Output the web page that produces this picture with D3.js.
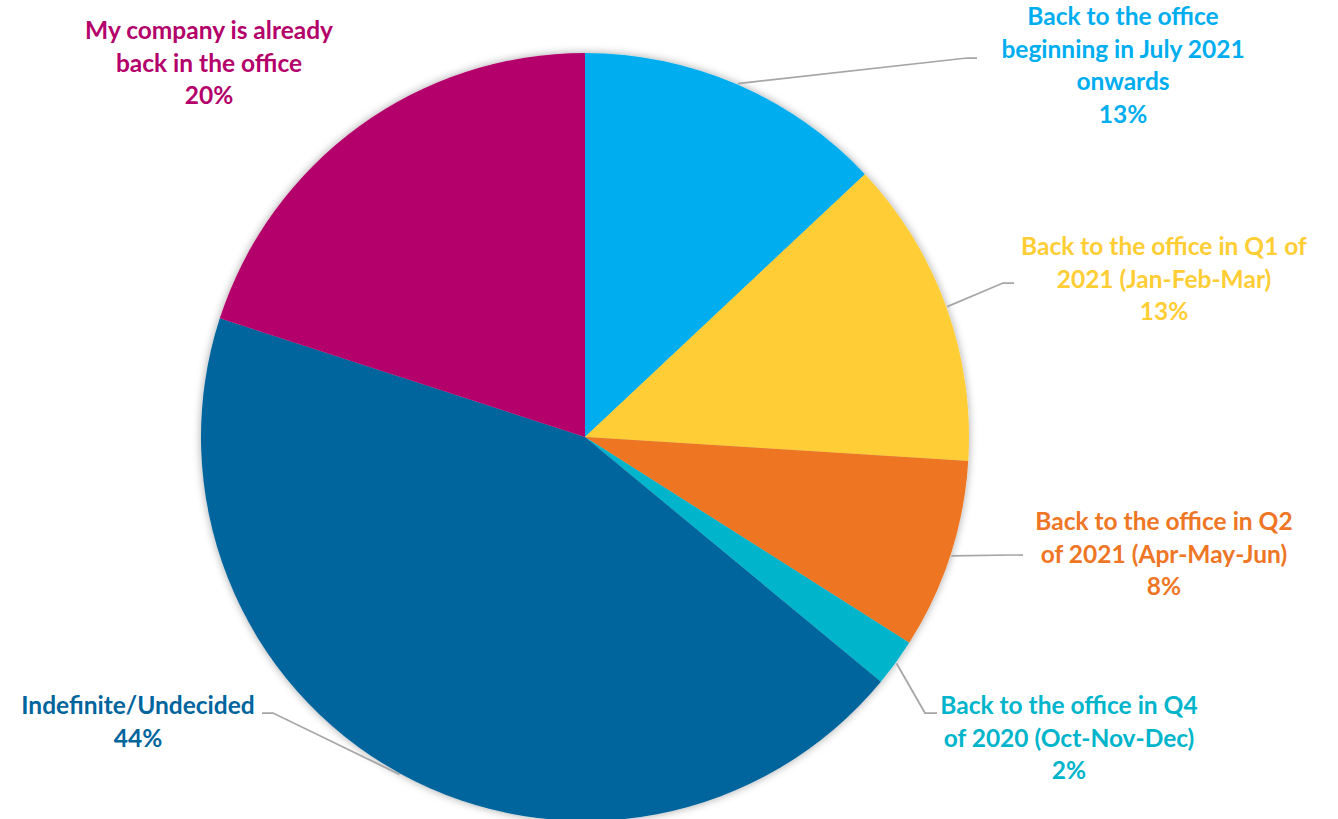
<!DOCTYPE html>
<html>
<head>
<meta charset="utf-8">
<script src="https://cdn.jsdelivr.net/npm/d3@7"></script>
<style>
  body { margin: 0; background: #fff; }
  svg { display: block; }
  .lbl { font-family: Lato, "Open Sans", sans-serif; font-weight: bold; font-size: 24.5px; }
</style>
</head>
<body>
<div id="chart"></div>
<script>
var svgWidth = 1338;
var svgHeight = 819;

// data, clockwise from 12 o'clock
var categories = [
  "Back to the office beginning in July 2021 onwards",
  "Back to the office in Q1 of 2021 (Jan-Feb-Mar)",
  "Back to the office in Q2 of 2021 (Apr-May-Jun)",
  "Back to the office in Q4 of 2020 (Oct-Nov-Dec)",
  "Indefinite/Undecided",
  "My company is already back in the office"
];
var values = [13, 13, 8, 2, 44, 20];
var labelLines = [
  ["Back to the office", "beginning in July 2021", "onwards"],
  ["Back to the office in Q1 of", "2021 (Jan-Feb-Mar)"],
  ["Back to the office in Q2", "of 2021 (Apr-May-Jun)"],
  ["Back to the office in Q4", "of 2020 (Oct-Nov-Dec)"],
  ["Indefinite/Undecided"],
  ["My company is already", "back in the office"]
];
var colors = ["#00AEEF", "#FFCD34", "#EE7624", "#00B5CB", "#00659D", "#B4006A"];

// label layout (page pixels): text centre x, first line y; leader elbow + end
var labelLayout = [
  { x: 1123, y: 25,  elbow: [967, 58],  end: [977, 58] },
  { x: 1164, y: 255, elbow: [1003, 283], end: [1014, 283] },
  { x: 1164, y: 530, elbow: [1013, 555], end: [1023, 555] },
  { x: 1069, y: 714, elbow: [925, 713],  end: [937, 713] },
  { x: 138,  y: 714, elbow: [273, 713],  end: [262, 713] },
  { x: 209,  y: 39,  elbow: null, end: null }
];

var cx = 585, cy = 437, radius = 384;
var lineHeight = 32.5;

var svg = d3.select("#chart")
  .append("svg")
  .attr("width", svgWidth)
  .attr("height", svgHeight);

var defs = svg.append("defs");
var filter = defs.append("filter")
  .attr("id", "shadow")
  .attr("x", "-10%").attr("y", "-10%")
  .attr("width", "120%").attr("height", "120%");
filter.append("feDropShadow")
  .attr("dx", 0).attr("dy", 0)
  .attr("stdDeviation", 4)
  .attr("flood-color", "#000")
  .attr("flood-opacity", 0.35);

var pie = d3.pie().sort(null).value(d => d);
var arcs = pie(values);

var arc = d3.arc().innerRadius(0).outerRadius(radius);

var pieGroup = svg.append("g")
  .attr("transform", `translate(${cx}, ${cy})`);

pieGroup.append("g")
  .attr("filter", "url(#shadow)")
  .selectAll("path")
  .data(arcs)
  .enter()
  .append("path")
  .attr("d", arc)
  .attr("fill", (d, i) => colors[i]);

// leader lines
arcs.forEach(function(d, i) {
  var lay = labelLayout[i];
  if (!lay.elbow) return;
  var mid = (d.startAngle + d.endAngle) / 2;
  var sx = cx + Math.sin(mid) * (radius + 1);
  var sy = cy - Math.cos(mid) * (radius + 1);
  svg.append("polyline")
    .attr("points", [[sx, sy], lay.elbow, lay.end].map(p => p.join(",")).join(" "))
    .attr("fill", "none")
    .attr("stroke", "#A6A6A6")
    .attr("stroke-width", 1.75);
});

// labels
arcs.forEach(function(d, i) {
  var lay = labelLayout[i];
  var lines = labelLines[i].concat([values[i] + "%"]);
  var t = svg.append("text")
    .attr("class", "lbl")
    .attr("text-anchor", "middle")
    .attr("fill", colors[i]);
  lines.forEach(function(line, j) {
    t.append("tspan")
      .attr("x", lay.x)
      .attr("y", lay.y + j * lineHeight)
      .text(line);
  });
});
</script>
</body>
</html>
